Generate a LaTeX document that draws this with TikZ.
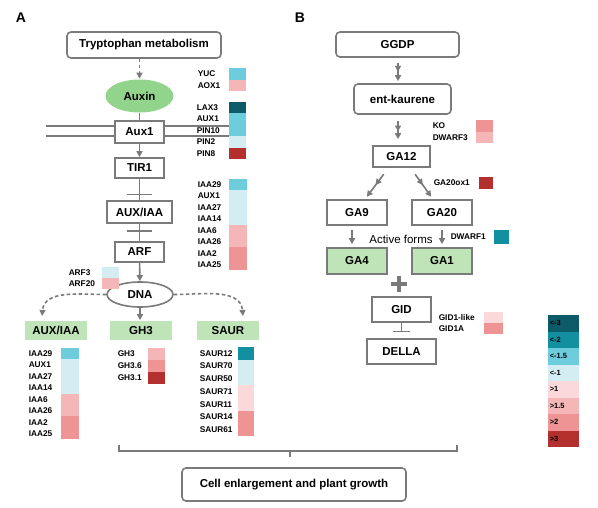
\documentclass[tikz,border=0pt]{standalone}
\usepackage{fontspec}
\setmainfont{Liberation Sans}
\usetikzlibrary{arrows.meta, shapes.geometric, decorations.markings}
\definecolor{cgrey}{HTML}{7A7A7A}
\definecolor{cgreen}{HTML}{BFE4B7}
\definecolor{cauxin}{HTML}{92D48C}
\definecolor{cdteal}{HTML}{0D5B68}
\definecolor{cteal}{HTML}{1390A0}
\definecolor{cblue}{HTML}{6DCDDD}
\definecolor{clblue}{HTML}{D3EDF2}
\definecolor{cvlpink}{HTML}{FBD9DB}
\definecolor{clpink}{HTML}{F4B6B6}
\definecolor{cpink}{HTML}{EE9494}
\definecolor{cred}{HTML}{B3302F}
\tikzset{
  every picture/.style={line width=1.5pt},
  bx/.style={draw=cgrey, fill=white, line width=1.6pt, inner sep=0pt, font=\bfseries\fontsize{11.5}{13}\selectfont},
  rbx/.style={bx, rounded corners=4pt},
  gbx/.style={bx, draw=none, fill=cgreen},
  link/.style={draw=cgrey, line width=1.6pt},
  arrow/.style={-{Triangle[length=6pt, width=6pt]}, draw=cgrey, line width=1.6pt},
  twoarrow/.style={arrow, postaction={decorate}, decoration={markings, mark=at position 0.55 with {\arrow{Triangle[length=6pt, width=6pt]}}}},
  gene/.style={anchor=west, inner sep=0pt, font=\bfseries\fontsize{8.3}{9}\selectfont},
  panel/.style={font=\bfseries\fontsize{14}{16}\selectfont},
}

\begin{document}
\begin{tikzpicture}[x=1pt, y=-1pt]
  \useasboundingbox (0,0) rectangle (598,507);
  \node[panel] (la) at (21,18) {A};
  \node[panel] (lb) at (300,18) {B};
  % auxin pathway
  \draw[link] (46,126) -- (230,126) (46,136) -- (230,136);
  \node[rbx, minimum width=154pt, minimum height=26pt] (trp) at (144,45) {Tryptophan metabolism};
  \node[bx, ellipse, draw=none, fill=cauxin, minimum width=68pt, minimum height=33pt] (auxin) at (139.5,96) {Auxin};
  \node[bx, minimum width=49pt, minimum height=22pt] (aux1) at (139.5,132) {Aux1};
  \node[bx, minimum width=49pt, minimum height=20pt] (tir1) at (139.5,168) {TIR1};
  \node[bx, minimum width=65pt, minimum height=22pt] (auxiaa) at (139.5,212) {AUX/IAA};
  \node[bx, minimum width=49pt, minimum height=20pt] (arf) at (139.5,252) {ARF};
  \node[bx, ellipse, minimum width=66pt, minimum height=25pt] (dna) at (140,294.5) {DNA};
  \node[gbx, minimum width=62pt, minimum height=19pt] (gaux) at (56,330.5) {AUX/IAA};
  \node[gbx, minimum width=62pt, minimum height=19pt] (ggh3) at (141,330.5) {GH3};
  \node[gbx, minimum width=62pt, minimum height=19pt] (gsaur) at (228,330.5) {SAUR};
  \coordinate (lt) at (42,316);
  \coordinate (rt) at (243,316);
  \draw[arrow, dash pattern=on 3.5pt off 2.5pt] (auxin |- trp.south) -- (auxin);
  \draw[link] (auxin) -- (aux1);
  \draw[arrow] (aux1) -- (tir1);
  \draw[link] (tir1) -- (auxiaa) coordinate[pos=0.74] (i1);
  \draw[link] ([xshift=-12.5pt]i1) -- ([xshift=12.5pt]i1);
  \draw[link] (auxiaa) -- (arf) coordinate[pos=0.42] (i2);
  \draw[link] ([xshift=-12.5pt]i2) -- ([xshift=12.5pt]i2);
  \draw[arrow] (arf) -- (dna);
  \draw[arrow] (dna.south) -- (dna.south |- ggh3.north);
  \draw[arrow, dash pattern=on 3.5pt off 2.5pt] (dna.west) to[out=180, in=85] (lt);
  \draw[arrow, dash pattern=on 3.5pt off 2.5pt] (dna.east) to[out=0, in=95] (rt);
  % expression next to the auxin pathway
  \foreach \g/\c [count=\i from 0] in {YUC/cblue, AOX1/clpink}{
    \fill[\c] (229,{68+11.5*\i}) rectangle ++(17,11.5);
    \node[gene] (yu\i) at (197,{73.75+11.5*\i}) {\g};
  }
  \foreach \g/\c [count=\i from 0] in {LAX3/cdteal, AUX1/cblue, PIN10/cblue, PIN2/clblue, PIN8/cred}{
    \fill[\c] (229,{102+11.4*\i}) rectangle ++(17,11.4);
    \node[gene] (px\i) at (196,{107.7+11.4*\i}) {\g};
  }
  \foreach \g/\c [count=\i from 0] in {IAA29/cblue, AUX1/clblue, IAA27/clblue, IAA14/clblue, IAA6/clpink, IAA26/clpink, IAA2/cpink, IAA25/cpink}{
    \fill[\c] (229,{179+11.4*\i}) rectangle ++(18,11.4);
    \node[gene] (ia\i) at (197,{184.7+11.4*\i}) {\g};
  }
  \foreach \g/\c [count=\i from 0] in {ARF3/clblue, ARF20/clpink}{
    \fill[\c] (102,{267+11*\i}) rectangle ++(17,11);
    \node[gene] (af\i) at (68,{272.5+11*\i}) {\g};
  }
  % expression below the target genes
  \foreach \g/\c [count=\i from 0] in {IAA29/cblue, AUX1/clblue, IAA27/clblue, IAA14/clblue, IAA6/clpink, IAA26/clpink, IAA2/cpink, IAA25/cpink}{
    \fill[\c] (61,{348+11.4*\i}) rectangle ++(18,11.4);
    \node[gene] (ib\i) at (28,{353.7+11.4*\i}) {\g};
  }
  \foreach \g/\c [count=\i from 0] in {GH3/clpink, GH3.6/cpink, GH3.1/cred}{
    \fill[\c] (148,{348+12*\i}) rectangle ++(17,12);
    \node[gene] (gh\i) at (117,{354+12*\i}) {\g};
  }
  \foreach \g/\c [count=\i from 0] in {SAUR12/cteal, SAUR70/clblue, SAUR50/clblue, SAUR71/cvlpink, SAUR11/cvlpink, SAUR14/cpink, SAUR61/cpink}{
    \fill[\c] (238,{347+12.7*\i}) rectangle ++(16,12.7);
    \node[gene] (sa\i) at (199,{353.35+12.7*\i}) {\g};
  }
  % gibberellin pathway
  \node[rbx, minimum width=123pt, minimum height=25pt] (ggdp) at (397.5,44.5) {GGDP};
  \node[rbx, minimum width=97pt, minimum height=30pt] (ent) at (402.5,99) {ent-kaurene};
  \node[bx, minimum width=57pt, minimum height=21pt] (ga12) at (401.5,156.5) {GA12};
  \node[bx, minimum width=60pt, minimum height=25pt] (ga9) at (357,212.5) {GA9};
  \node[bx, minimum width=60pt, minimum height=25pt] (ga20) at (442,212.5) {GA20};
  \node[bx, fill=cgreen, minimum width=60pt, minimum height=26pt] (ga4) at (357,261) {GA4};
  \node[bx, fill=cgreen, minimum width=60pt, minimum height=26pt] (ga1) at (442,261) {GA1};
  \node[bx, minimum width=59pt, minimum height=25pt] (gid) at (401.5,309.5) {GID};
  \node[bx, minimum width=69pt, minimum height=25pt] (della) at (401.5,351.5) {DELLA};
  \node[font=\fontsize{11.5}{13}\selectfont] (act) at (401,239) {Active forms};
  \draw[twoarrow, shorten <=5pt, shorten >=2pt] (ggdp.south -| 398,0) -- (ent.north -| 398,0);
  \draw[twoarrow, shorten <=6pt, shorten >=6pt] (ent.south -| 398,0) -- (ga12.north -| 398,0);
  \draw[twoarrow, shorten <=8pt, shorten >=3pt] ([xshift=-13pt]ga12.south) -- ([xshift=8pt]ga9.north);
  \draw[twoarrow, shorten <=8pt, shorten >=3pt] ([xshift=9pt]ga12.south) -- ([xshift=-9pt]ga20.north);
  \draw[arrow, shorten <=4pt, shorten >=3pt] ([xshift=-5pt]ga9.south) -- ([xshift=-5pt]ga4.north);
  \draw[arrow, shorten <=4pt, shorten >=3pt] (ga20) -- (ga1);
  \draw[cgrey, line width=3.5pt] (391,284) -- (407,284) (399,276) -- (399,292);
  \draw[link, -{Bar[width=17pt]}, shorten >=6pt] (gid) -- (della);
  % expression next to the gibberellin pathway
  \foreach \g/\c [count=\i from 0] in {KO/cpink, DWARF3/clpink}{
    \fill[\c] (476,{120+11.5*\i}) rectangle ++(17,11.5);
    \node[gene] (ko\i) at (432,{125.75+11.5*\i}) {\g};
  }
  \fill[cred] (479,177) rectangle ++(14,12);
  \node[gene] (gox) at (433,183) {GA20ox1};
  \fill[cteal] (494,230) rectangle ++(15,14);
  \node[gene] (dw1) at (450,237) {DWARF1};
  \foreach \g/\c [count=\i from 0] in {GID1-like/cvlpink, GID1A/cpink}{
    \fill[\c] (484,{312+11*\i}) rectangle ++(19,11);
    \node[gene] (gd\i) at (438,{317.5+11*\i}) {\g};
  }
  % legend
  \foreach \t/\c [count=\i from 0] in {<-3/cdteal, <-2/cteal, <-1.5/cblue, <-1/clblue, >1/cvlpink, >1.5/clpink, >2/cpink, >3/cred}{
    \fill[\c] (548,{315+16.5*\i}) rectangle ++(31,16.5);
    \node[gene, font=\bfseries\fontsize{7.5}{8}\selectfont] (lg\i) at (549,{323.25+16.5*\i}) {\t};
  }
  % common outcome
  \draw[link] (119,445) -- (119,451) -- (457,451) -- (457,445);
  \draw[link] (290,451) -- (290,457);
  \node[rbx, minimum width=224pt, minimum height=33pt] (cell) at (294,484.5) {Cell enlargement and plant growth};
\end{tikzpicture}
\end{document}
